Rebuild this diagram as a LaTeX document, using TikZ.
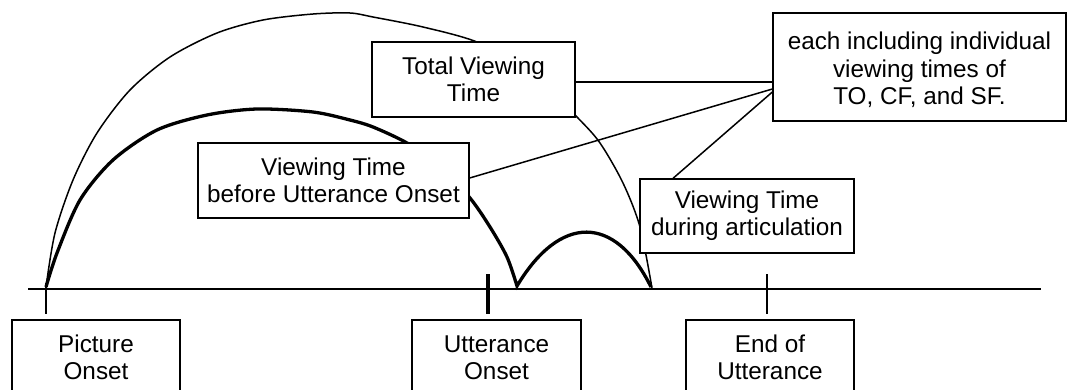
\documentclass[tikz,border=0pt]{standalone}
\usepackage{fontspec}
\setmainfont{Liberation Sans}
\begin{document}
\begin{tikzpicture}[x=1pt,y=-1pt,
  box/.style={draw=black,line width=1.3pt,fill=white,align=center,inner sep=0pt,
    font=\fontsize{24.3}{27.4}\selectfont},
  thinarc/.style={line width=1.5pt},
  thickarc/.style={line width=3.3pt,line join=miter},
  link/.style={line width=1.5pt},
  axisline/.style={line width=2.2pt},
  tickmark/.style={line width=2pt},
  bigtick/.style={line width=4pt}]
\clip (0,0) rectangle (1069,389);
\fill[white] (0,0) rectangle (1069,389);

% time axis
\coordinate (axL) at (28,289);
\coordinate (axR) at (1041,289);
\draw[axisline] (axL) -- (axR);
\coordinate (t1a) at (46,283); \coordinate (t1b) at (46,314);
\coordinate (t2a) at (488,274); \coordinate (t2b) at (488,314);
\coordinate (t3a) at (767,274); \coordinate (t3b) at (767,314);
\draw[tickmark] (t1a) -- (t1b);
\draw[bigtick] (t2a) -- (t2b);
\draw[tickmark] (t3a) -- (t3b);

% outer thin arc (total viewing time)
\draw[thinarc] plot[smooth] coordinates {(46,287) (55,233) (73,180) (97,133) (130,90) (170,57) (217,33) (263,20) (313,14) (350,13) (373,17) (423,27) (477,42) (530,70) (577,117) (600,143) (623,183) (640,227) (652,288)};

% thick arcs
\coordinate (vend) at (651,287);
\draw[thickarc] plot[smooth] coordinates {(46,287) (57,253) (80,200) (113,160) (157,130) (207,115) (257,109) (313,112) (350,120) (373,127) (407,143) (440,166) (470,198) (490,227) (507,257) (517,286)}
  .. controls (560,214) and (615,214) .. (vend);

% boxes
\node[box,minimum width=203pt,minimum height=75pt] (total) at (473.5,79.5) {Total Viewing\\Time};
\node[box,minimum width=271pt,minimum height=75pt] (before) at (333.5,180.5) {Viewing Time\\before Utterance Onset};
\node[box,minimum width=214pt,minimum height=74pt] (during) at (747,216) {Viewing Time\\during articulation};
\node[box,minimum width=293pt,minimum height=108pt] (each) at (919.5,67) {\rule{0pt}{23.7pt}each including individual\\viewing times of\\TO, CF, and SF.};

\node[box,minimum width=168pt,minimum height=75pt] (picture) at (96,357.5) {Picture\\Onset};
\node[box,minimum width=169pt,minimum height=75pt] (uonset) at (496.5,357.5) {Utterance\\Onset};
\node[box,minimum width=168pt,minimum height=75pt] (endu) at (770,357.5) {End of\\Utterance};

% connectors
\draw[link] ([yshift=-2.5pt]total.east) -- ([yshift=-15pt]each.west);
\draw[link] ([yshift=2.5pt]before.east) -- ([yshift=-22pt]each.west);
\draw[link] ([xshift=-74pt]during.north) -- ([yshift=-25pt]each.west);
\end{tikzpicture}
\end{document}
